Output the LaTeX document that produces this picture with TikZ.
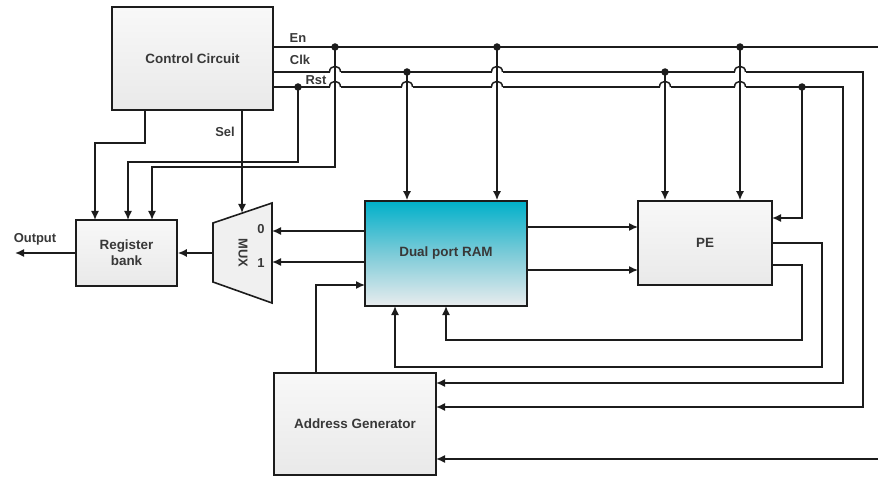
\documentclass[tikz,border=0pt]{standalone}
\usepackage{fontspec}
\setmainfont{Liberation Sans}
\usetikzlibrary{arrows.meta}
\definecolor{txt}{HTML}{383838}
\definecolor{ln}{HTML}{1C1C1C}
\definecolor{boxtop}{HTML}{F8F8F8}
\definecolor{boxbot}{HTML}{E9E9E9}
\definecolor{ramtop}{HTML}{00B0CA}
\definecolor{rammid}{HTML}{7CCBD8}
\definecolor{rambot}{HTML}{E9ECEE}
\definecolor{muxfill}{HTML}{F0F0F0}
% gap in a bus line where it hops over a crossing wire
\newcommand\hp[2]{-- ({#1-5.5},#2) ({#1+5.5},#2)}
% the hop itself
\newcommand\hoparc[2]{\draw[wire] ({#1-5.5},#2) .. controls ({#1-5.5},{#2-7.5}) and ({#1+5.5},{#2-7.5}) .. ({#1+5.5},#2);}
\tikzset{
  blk/.style={draw=ln, line width=1.6bp, top color=boxtop, bottom color=boxbot,
    inner sep=0pt, font=\bfseries\fontsize{13.5}{16}\selectfont, text=txt, align=center},
  ramblk/.style={blk, top color=ramtop, bottom color=rambot, middle color=rammid},
  wire/.style={draw=ln, line width=1.5bp},
  arr/.style={wire, -{Latex[length=9bp,width=8bp]}},
  lbl/.style={font=\bfseries\fontsize{13}{15}\selectfont, text=txt, inner sep=0pt},
  jdot/.style={circle, fill=ln, inner sep=0pt, minimum size=7.5bp}
}
\begin{document}
\begin{tikzpicture}[x=1bp,y=-1bp]
\useasboundingbox (0,0) rectangle (878,477);
% blocks
\node[blk, minimum width=161bp, minimum height=103bp] (cc) at (192.5,58.5) {Control Circuit};
\node[blk, minimum width=101bp, minimum height=66bp] (rb) at (126.5,253) {Register\\bank};
\node[ramblk, minimum width=162bp, minimum height=105bp] (ram) at (446,253.5) {Dual port RAM};
\node[blk, minimum width=134bp, minimum height=84bp] (pe) at (705,243) {PE};
\node[blk, minimum width=162bp, minimum height=102bp] (ag) at (355,424) {Address Generator};
% MUX
\draw[draw=ln, line width=1.6bp, fill=muxfill] (213,223) -- (272,203) -- (272,303) -- (213,282) -- cycle;
\node[lbl, rotate=-90] (muxt) at (243,253) {MUX};
\node[lbl] (l0) at (261,229) {0};
\node[lbl] (l1) at (261,263) {1};
% coordinates
\coordinate (jE1) at (335,47);
\coordinate (jE2) at (497,47);
\coordinate (jE3) at (740,47);
\coordinate (jC1) at (407,72);
\coordinate (jC2) at (665,72);
\coordinate (jR1) at (298,87);
\coordinate (jR2) at (802,87);
\coordinate (eEdge) at (878,47);
\coordinate (bEdge) at (878,459);
\coordinate (a1) at (436,383);
\coordinate (a2) at (436,407);
\coordinate (a3) at (436,459);
\coordinate (r1) at (95,220);
\coordinate (r2) at (128,220);
\coordinate (r3) at (152,220);
\coordinate (ccb1) at (145,110);
\coordinate (ccb2) at (242,110);
\coordinate (msel) at (242,213);
\coordinate (m0) at (272,231);
\coordinate (m1) at (272,262);
\coordinate (mo) at (213,253);
\coordinate (outp) at (15,253);
\coordinate (p1) at (638,227);
\coordinate (p2) at (638,270);
\coordinate (peR) at (772,218);
\coordinate (po1) at (772,243);
\coordinate (po2) at (772,265);
\coordinate (rb1) at (395,306);
\coordinate (rb2) at (446,306);
\coordinate (agt) at (316,373);
\coordinate (ramL) at (365,285);
% En / Clk / Rst buses
\draw[wire] (cc.east |- jE1) -- (eEdge);
\draw[arr] (cc.east |- jC1) \hp{335}{72} -- (jC1) \hp{497}{72} -- (jC2) \hp{740}{72} -- (863,72) -- (863,407) -- (a2);
\draw[arr] (cc.east |- jR1) -- (jR1) \hp{335}{87} \hp{407}{87} \hp{497}{87} \hp{665}{87} \hp{740}{87} -- (jR2) -- (843,87) -- (843,383) -- (a1);
\foreach \h in {335,497,740} {\hoparc{\h}{72}}
\foreach \h in {335,407,497,665,740} {\hoparc{\h}{87}}
\draw[arr] (bEdge) -- (a3);
% drops
\draw[arr] (jC1) -- (jC1 |- ram.north);
\draw[arr] (jE2) -- (jE2 |- ram.north);
\draw[arr] (jC2) -- (jC2 |- pe.north);
\draw[arr] (jE3) -- (jE3 |- pe.north);
\draw[arr] (jR2) |- (peR);
% to register bank
\draw[arr] (ccb1) -- (145,143) -| (r1);
\draw[arr] (jR1) -- (298,162) -| (r2);
\draw[arr] (jE1) -- (335,167) -| (r3);
\draw[arr] (ccb2) -- (msel);
% mux
\draw[arr] (m0 -| ram.west) -- (m0);
\draw[arr] (m1 -| ram.west) -- (m1);
\draw[arr] (mo) -- (mo -| rb.east);
\draw[arr] (rb.west) -- (outp);
% RAM to PE
\draw[arr] (p1 -| ram.east) -- (p1);
\draw[arr] (p2 -| ram.east) -- (p2);
% PE feedback
\draw[arr] (po1) -- (822,243) -- (822,367) -| (rb1);
\draw[arr] (po2) -- (802,265) -- (802,340) -| (rb2);
% AG to RAM
\draw[arr] (agt) |- (ramL);
% labels
\node[lbl] (lEn) at (298,38) {En};
\node[lbl] (lClk) at (300,60) {Clk};
\node[lbl] (lRst) at (316,80) {Rst};
\node[lbl] (lSel) at (225,132) {Sel};
\node[lbl] (lOut) at (35,239) {Output};
% junction dots
\foreach \j in {jE1,jE2,jE3,jC1,jC2,jR1,jR2} \node[jdot] at (\j) {};
\end{tikzpicture}
\end{document}
